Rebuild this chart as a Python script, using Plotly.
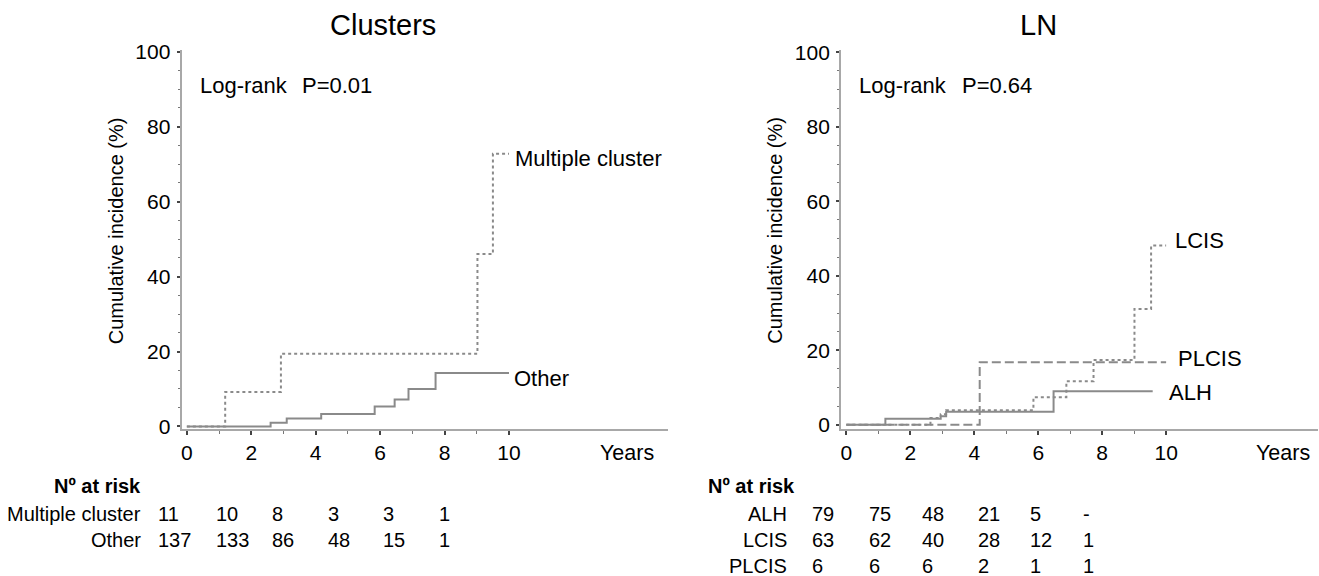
import plotly.graph_objects as go

W, H = 1319, 576

# ---------------- data ----------------
multi_t = [0, 1.19, 2.92, 9.02, 9.50, 10.0]
multi_y = [0, 9.2, 19.4, 46.0, 72.8, 72.8]
other_t = [0, 2.60, 3.10, 4.17, 5.83, 6.45, 6.88, 7.72, 10.0]
other_y = [0, 1.0, 2.1, 3.3, 5.3, 7.2, 10.0, 14.3, 14.3]

alh_t = [0, 1.22, 2.95, 3.12, 6.48, 9.58]
alh_y = [0, 1.6, 2.3, 3.5, 9.0, 9.0]
lcis_t = [0, 2.63, 2.95, 3.12, 5.85, 6.88, 7.73, 9.01, 9.53, 10.0]
lcis_y = [0, 1.8, 2.8, 3.9, 7.4, 11.7, 17.4, 31.1, 48.1, 48.1]
plcis_t = [0, 4.17, 10.0]
plcis_y = [0, 16.8, 16.8]

x_ticks = [0, 2, 4, 6, 8, 10]
x_minor = [1, 3, 5, 7, 9]
y_ticks = [0, 20, 40, 60, 80, 100]

left_groups = ["Multiple cluster", "Other"]
left_risk = [["11", "10", "8", "3", "3", "1"],
             ["137", "133", "86", "48", "15", "1"]]
right_groups = ["ALH", "LCIS", "PLCIS"]
right_risk = [["79", "75", "48", "21", "5", "-"],
              ["63", "62", "40", "28", "12", "1"],
              ["6", "6", "6", "2", "1", "1"]]

# ---------------- layout constants ----------------
FONT = "Arial, Liberation Sans, sans-serif"
FS = 20
FS_TICK = 21
FS_LAB = 22
LINEC = "#8a8a8a"
AXC = "#a8a8a8"
DOT = "3px,3px"
DASH = "9px,4px"

# page-pixel -> paper helpers (vertical calibrated to the rendered page)
TOP_OFF, EFF_H = 10.0, 556.0


def px(x):
    return x / W


def py(y):
    return 1 - (y - TOP_OFF) / EFF_H


fig = go.Figure()


def add_curve(t, y, dash, xa, ya):
    fig.add_trace(go.Scatter(x=t, y=y, mode="lines", line_shape="hv",
                             line=dict(color=LINEC, width=2, dash=dash),
                             xaxis=xa, yaxis=ya, showlegend=False, hoverinfo="skip"))


add_curve(other_t, other_y, "solid", "x", "y")
add_curve(multi_t, multi_y, DOT, "x", "y")
add_curve(alh_t, alh_y, "solid", "x2", "y2")
add_curve(plcis_t, plcis_y, DASH, "x2", "y2")
add_curve(lcis_t, lcis_y, DOT, "x2", "y2")

ydom = [py(428.0), py(50.0)]


def xaxis(dom, rng, anchor):
    return dict(domain=dom, range=rng, anchor=anchor, showgrid=False, zeroline=False,
                showline=True, linecolor=AXC, linewidth=2,
                ticks="outside", ticklen=4, tickwidth=2, tickcolor="#444",
                tickvals=x_ticks, ticktext=[str(v) for v in x_ticks],
                tickfont=dict(family=FONT, size=FS_TICK, color="black"),
                ticklabelstandoff=0,
                minor=dict(tickvals=x_minor, ticks="outside", ticklen=3,
                           tickwidth=1, tickcolor="#777"))


def yaxis(rng, anchor):
    return dict(domain=ydom, range=rng, anchor=anchor, showgrid=False, zeroline=False,
                showline=True, linecolor=AXC, linewidth=2,
                ticks="outside", ticklen=3, tickwidth=2, tickcolor="#444",
                tickvals=y_ticks, ticktext=[str(v) for v in y_ticks],
                tickfont=dict(family=FONT, size=FS_TICK, color="black"),
                ticklabelstandoff=2,
                minor=dict(dtick=5, tick0=0, ticks="outside", ticklen=2,
                           tickwidth=1, tickcolor="#777"))


ann = []


def text(x, y, s, size=FS, xanchor="left", xref="paper", yref="paper",
         bold=False, angle=0):
    ann.append(dict(x=x, y=y, xref=xref, yref=yref, text=("<b>%s</b>" % s) if bold else s,
                    showarrow=False, xanchor=xanchor, yanchor="middle",
                    textangle=angle,
                    font=dict(family=FONT, size=size, color="black")))


# titles
text(px(382), py(25), "Clusters", size=29, xanchor="center")
text(px(1038), py(25), "LN", size=29, xanchor="center")

# y titles
text(px(115), py(230), "Cumulative incidence (%)", xanchor="center", angle=-90)
text(px(775), py(230), "Cumulative incidence (%)", xanchor="center", angle=-90)

# log-rank
text(px(196.7), py(85), "Log-rank", size=FS_LAB)
text(px(299.3), py(85), "P=0.01", size=FS_LAB)
text(px(856.7), py(85), "Log-rank", size=FS_LAB)
text(px(959.3), py(85), "P=0.64", size=FS_LAB)

# years
text(px(626), py(452), "Years", size=21.5, xanchor="center")
text(px(1283), py(452), "Years", size=21.5, xanchor="center")

# curve labels
text(px(512), py(158), "Multiple cluster", size=FS_LAB)
text(px(511), py(378), "Other", size=FS_LAB)
text(px(1173), py(240), "LCIS", size=FS_LAB)
text(px(1176), py(358), "PLCIS", size=FS_LAB)
text(px(1167), py(392), "ALH", size=FS_LAB)

# risk tables
left_cols = [155, 213, 269, 325, 380, 436]
right_cols = [810, 867, 920, 976, 1028, 1081]
text(px(142), py(485), "Nº at risk", xanchor="right", bold=True)
for r, (g, vals) in enumerate(zip(left_groups, left_risk)):
    yy = py(513 + 26.5 * r)
    text(px(142), yy, g, xanchor="right")
    for c, v in zip(left_cols, vals):
        text(px(c), yy, v)

text(px(706), py(485), "Nº at risk", xanchor="left", bold=True)
for r, (g, vals) in enumerate(zip(right_groups, right_risk)):
    yy = py(513 + 26 * r)
    text(px(789), yy, g, xanchor="right")
    for c, v in zip(right_cols, vals):
        text(px(c), yy, v)

fig.update_layout(
    width=W, height=H,
    margin=dict(l=0, r=0, t=0, b=0),
    paper_bgcolor="white", plot_bgcolor="white",
    xaxis=xaxis([px(180.7), px(668)], [-0.164, 14.95], "y"),
    yaxis=yaxis([-0.61, 100.45], "x"),
    xaxis2=xaxis([px(840.7), px(1318)], [-0.166, 14.75], "y2"),
    yaxis2=yaxis([-1.08, 100.6], "x2"),
    annotations=ann,
)

fig.write_html("out.html", config={"displayModeBar": False},
               post_script="document.body.style.margin='0';"
                           "document.documentElement.style.overflow='hidden';")
